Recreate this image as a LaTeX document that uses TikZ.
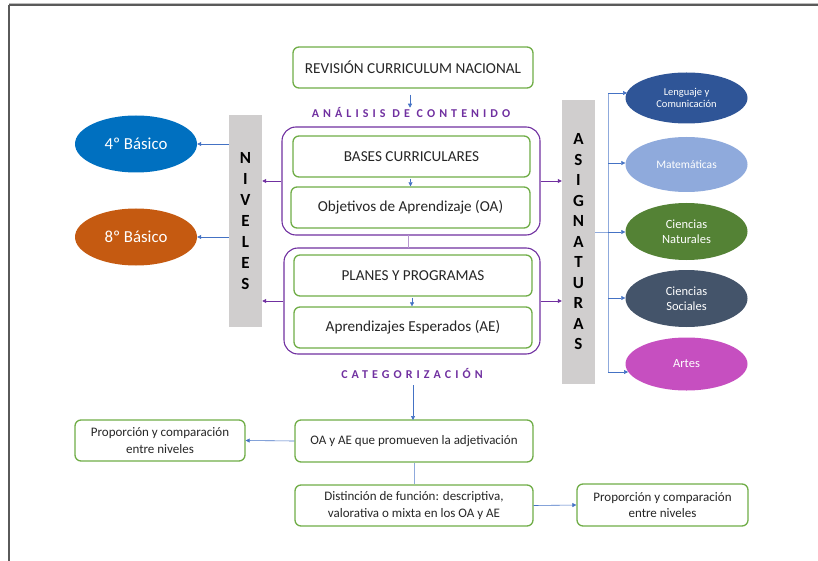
\documentclass[tikz,border=0pt]{standalone}
\usepackage{fontspec}
\setmainfont{Carlito}
\newfontfamily\spacedfont[LetterSpace=34]{Carlito}
\usetikzlibrary{shapes.geometric,arrows.meta}
\definecolor{boxgreen}{HTML}{70AD47}
\definecolor{purp}{HTML}{7030A0}
\definecolor{arrblue}{HTML}{4472C4}
\definecolor{bargray}{HTML}{D0CECE}
\definecolor{framegray}{HTML}{5A5A5A}
\definecolor{txt}{HTML}{262626}
\definecolor{cblue}{HTML}{0070C0}
\definecolor{corange}{HTML}{C55A11}
\definecolor{clen}{HTML}{2F5597}
\definecolor{cmat}{HTML}{8FAADC}
\definecolor{cnat}{HTML}{548235}
\definecolor{csoc}{HTML}{44546A}
\definecolor{cart}{HTML}{C64FC0}
\tikzset{
  gbox/.style={draw=boxgreen, line width=1.3pt, rounded corners=6pt, fill=white,
    align=center, text=txt, inner sep=0pt, font=\fontsize{15.2}{17}\selectfont},
  sbox/.style={gbox, font=\fontsize{13}{16.5}\selectfont},
  pgroup/.style={draw=purp, line width=1.1pt, rounded corners=14pt, inner sep=0pt},
  bar/.style={fill=bargray, inner sep=0pt, minimum width=33pt, align=center,
    font=\fontsize{17}{21}\selectfont\bfseries, text=black},
  oval/.style={ellipse, inner sep=0pt, minimum width=122pt, align=center, text=white},
  barr/.style={draw=arrblue, line width=0.6pt, -{Triangle[length=4pt,width=4pt]}},
  parr/.style={draw=purp, line width=0.8pt, -{Triangle[length=4pt,width=4pt]}},
  blin/.style={draw=arrblue!60, line width=0.7pt},
  heading/.style={text=purp, font=\fontsize{12}{14}\selectfont\spacedfont\bfseries, inner sep=0pt}
}
\begin{document}
\begin{tikzpicture}[x=1pt, y=-1pt]
\useasboundingbox (0,0) rectangle (818,561);
% frame
\draw[framegray!40, line width=1pt] (9,3.5) -- (818,3.5);
\draw[framegray, line width=2pt] (8.5,5.5) -- (818,5.5);
\draw[framegray, line width=2pt] (8.5,5.5) -- (8.5,561);

% top
\node[gbox, minimum width=240pt, minimum height=41pt] (rev) at (413,67.5) {REVISIÓN CURRICULUM NACIONAL};
\node[heading] (ana) at (411,113) {ANÁLISIS DE CONTENIDO};
\draw[barr] (rev.south) ++(-3,6) coordinate (r1) -- (r1 |- ana.north);

% groups
\node[pgroup, minimum width=258pt, minimum height=108pt] (g1) at (411,181) {};
\node[pgroup, minimum width=256pt, minimum height=106pt] (g2) at (412,301) {};
\draw[draw=purp!50, line width=0.8pt] (408,235) -- (408,248);

\node[gbox, minimum width=237pt, minimum height=41pt] (bases) at (411.5,156.5) {BASES CURRICULARES};
\node[gbox, minimum width=239pt, minimum height=41pt] (oa) at (410.5,207.5) {Objetivos de Aprendizaje (OA)};
\draw[barr] (bases.south) ++(-1,1) coordinate (b1) -- (b1 |- oa.north);

\node[gbox, minimum width=238pt, minimum height=41pt] (pla) at (413,275.5) {PLANES Y PROGRAMAS};
\node[gbox, minimum width=238pt, minimum height=41pt] (ae) at (413,327.5) {Aprendizajes Esperados (AE)};
\draw[barr] (pla.south) ++(-1,1) coordinate (p1) -- (p1 |- ae.north);

% bars
\node[bar, minimum height=212pt] (niv) at (245.5,221) {N\\I\\V\\E\\L\\E\\S};
\node[bar, minimum height=283pt, font=\fontsize{17}{20.5}\selectfont\bfseries] (asig) at (578.5,242) {A\\S\\I\\G\\N\\A\\T\\U\\R\\A\\S};

\draw[parr] (g1.west) -- (g1.west -| niv.east);
\draw[parr] (g2.west) -- (g2.west -| niv.east);
\draw[parr] (g1.east) -- (g1.east -| asig.west);
\draw[parr] (g2.east) -- (g2.east -| asig.west);

% niveles ovals
\node[oval, fill=cblue, minimum height=57pt, font=\fontsize{16.8}{20}\selectfont] (b4) at (136,144) {4º Básico};
\node[oval, fill=corange, minimum height=57pt, font=\fontsize{16.8}{20}\selectfont] (b8) at (136,237) {8º Básico};
\draw[barr] (niv.west |- b4) -- (b4.east);
\draw[barr] (niv.west |- b8) -- (b8.east);

% asignaturas ovals
\tikzset{soval/.style={oval, minimum height=53pt, font=\fontsize{12.5}{15.5}\selectfont}}
\node[soval, fill=clen, minimum height=51pt, font=\fontsize{10.5}{12.5}\selectfont] (len) at (686.5,98) {Lenguaje y\\Comunicación};
\node[soval, fill=cmat, minimum height=55pt, font=\fontsize{11.5}{14}\selectfont] (mat) at (686.5,164.5) {Matemáticas};
\node[soval, fill=cnat, minimum height=57pt] (nat) at (686.5,231.5) {Ciencias\\Naturales};
\node[soval, fill=csoc, minimum height=57pt] (soc) at (686.5,298.5) {Ciencias\\Sociales};
\node[soval, fill=cart, minimum height=53pt] (art) at (686.5,364) {Artes};

\coordinate (tr) at (608,232);
\coordinate (ttop) at (608,93);
\coordinate (tbot) at (608,372);
\draw[blin] (asig.east |- tr) -- (tr);
\draw[blin] (ttop) -- (tbot);
\draw[barr] (ttop) -- (627,93);
\draw[barr] (608,163) -- (mat.west |- 0,163);
\draw[barr] (608,232) -- (nat.west |- 0,232);
\draw[barr] (608,298) -- (soc.west |- 0,298);
\draw[barr] (tbot) -- (628,372);

% categorizacion
\node[heading] (cat) at (412,373) {CATEGORIZACIÓN};
\node[sbox, minimum width=238pt, minimum height=42pt] (oaae) at (414,441) {OA y AE que promueven la adjetivación};
\draw[barr] (413,385) -- (413,420);
\node[sbox, minimum width=170pt, minimum height=41pt] (prop1) at (160,440.5) {Proporción y comparación\\entre niveles};
\draw[barr] (oaae.west) -- (prop1.east);
\node[sbox, minimum width=238pt, minimum height=41pt] (dist) at (414,505.5) {Distinción de función: descriptiva,\\valorativa o mixta en los OA y AE};
\draw[blin] (oaae.south) -- (dist.north);
\node[sbox, minimum width=171pt, minimum height=42pt] (prop2) at (662.5,505) {Proporción y comparación\\entre niveles};
\draw[barr] (dist.east) -- (prop2.west);
\end{tikzpicture}
\end{document}
